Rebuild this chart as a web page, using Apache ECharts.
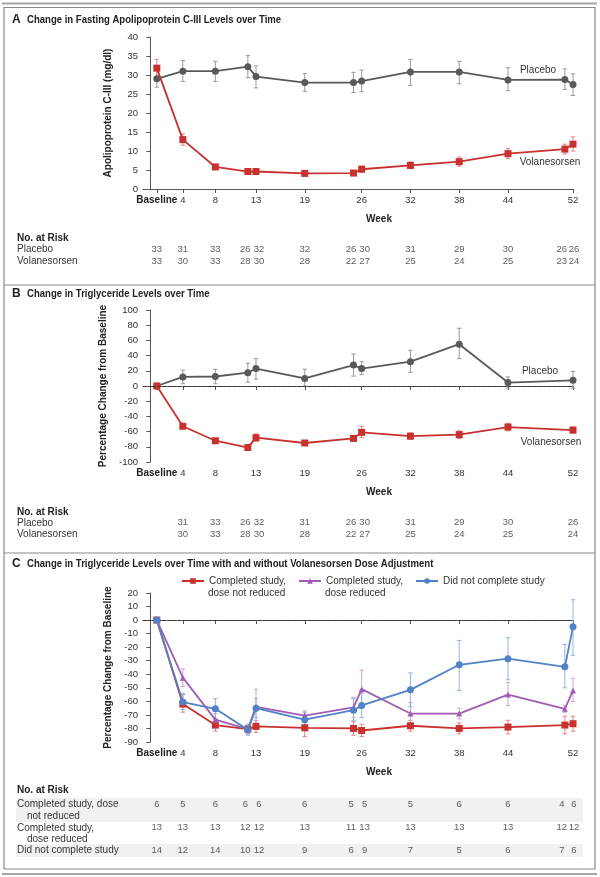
<!DOCTYPE html>
<html><head><meta charset="utf-8">
<script src="https://cdn.jsdelivr.net/npm/echarts@6/dist/echarts.min.js"></script>
<style>html,body{margin:0;padding:0;background:#fff}#c{width:600px;height:877px}</style>
</head><body><div id="c"></div>
<script>
// ---------- data ----------
const BASE = 0.8; // position of the "Baseline" visit on the week axis
const tickWeeks = [BASE, 4, 8, 13, 19, 26, 32, 38, 44, 52];
const weeksA = [BASE, 4, 8, 12, 13, 19, 25, 26, 32, 38, 44, 51, 52];
const placeboA = [29, 31, 31, 32.2, 29.6, 28, 28, 28.4, 30.8, 30.8, 28.7, 28.8, 27.5];
const placeboALow = [26.8, 28.3, 28.3, 29.3, 26.6, 25.7, 25.4, 25.6, 27.2, 27.7, 25.9, 26.2, 24.6];
const placeboAHigh = [31.2, 33.8, 33.6, 35.1, 32.4, 30.4, 30.7, 31.3, 34.1, 33.6, 31.9, 31.6, 30.3];
const volA = [31.8, 13, 5.8, 4.6, 4.6, 4.1, 4.2, 5.2, 6.2, 7.2, 9.3, 10.5, 11.8];
const volALow = [29.4, 11.5, 5.1, 4, 4, 3.5, 3.6, 4.5, 5.4, 6, 8, 9.2, 10];
const volAHigh = [34.1, 14.5, 6.5, 5.3, 5.3, 4.8, 4.8, 6, 7.1, 8.4, 10.6, 11.8, 13.7];
const riskAPlacebo = [33, 31, 33, 26, 32, 32, 26, 30, 31, 29, 30, 26, 26];
const riskAVol = [33, 30, 33, 28, 30, 28, 22, 27, 25, 24, 25, 23, 24];

const weeksB = [BASE, 4, 8, 12, 13, 19, 25, 26, 32, 38, 44, 52];
const placeboB = [0, 12, 12.5, 17.5, 23, 10, 27.5, 23, 32, 55, 4.5, 7.5];
const placeboBLow = [null, 3, 3, 5, 9, 0, 13, 15, 18, 36, -3, -3];
const placeboBHigh = [null, 21, 22, 30, 36, 22, 42, 32, 47, 76, 12, 19];
const volB = [0, -53, -72, -81, -68, -75, -69, -61, -66, -64, -54, -58];
const volBLow = [null, -56, -75, -84, -73, -78, -72, -68, -70, -69, -59, -62];
const volBHigh = [null, -50, -69, -78, -63, -72, -66, -53, -62, -59, -49, -54];
const riskWeeksB = [4, 8, 12, 13, 19, 25, 26, 32, 38, 44, 52];
const riskBPlacebo = [31, 33, 26, 32, 31, 26, 30, 31, 29, 30, 26];
const riskBVol = [30, 33, 28, 30, 28, 22, 27, 25, 24, 25, 24];

const weeksC = [BASE, 4, 8, 12, 13, 19, 25, 26, 32, 38, 44, 51, 52];
const notReduced = [0, -62, -77.5, -80.5, -78.5, -79.5, -80, -81.5, -78, -80, -79, -77.5, -76.5];
const notReducedLow = [null, -68, -82, -84, -83, -86, -85, -86, -82, -84, -84, -84, -82];
const notReducedHigh = [null, -55, -73, -77, -74, -73, -75, -77, -74, -76, -74, -71, -71];
const reduced = [0, -42.5, -73.5, -80.5, -64, -70.5, -64.5, -51, -69, -69, -55, -65.5, -52];
const reducedLow = [null, -49, -78, -84, -76, -74, -72, -65, -77, -73, -63, -68, -60];
const reducedHigh = [null, -36, -69, -77, -51, -67, -57, -37, -61, -65, -46, -63, -43];
const notComplete = [0, -60.5, -65.5, -81, -65, -73.5, -66.5, -63, -51.5, -33, -28.5, -34.5, -5];
const notCompleteLow = [null, -66, -73, -85, -72, -79, -74, -72, -64, -52, -44, -50, -26];
const notCompleteHigh = [null, -54, -58, -78, -58, -68, -58, -54, -39, -15, -13, -18, 15];
const riskCNotReduced = [6, 5, 6, 6, 6, 6, 5, 5, 5, 6, 6, 4, 6];
const riskCReduced = [13, 13, 13, 12, 12, 13, 11, 13, 13, 13, 13, 12, 12];
const riskCNotComplete = [14, 12, 14, 10, 12, 9, 6, 9, 7, 5, 6, 7, 6];

const nameNR = 'Completed study,\ndose not reduced';
const nameR = 'Completed study,\ndose reduced';
const nameNC = 'Did not complete study';

// ---------- style ----------
const FF = '"Liberation Sans Narrow","Liberation Sans",Arial,sans-serif';
const TXT = '#333';
const GRAY = '#58595b', GRAYE = '#9a9a9a';
const RED = '#c8312d', REDE = '#e08585';
const PUR = '#a05db3', PURE = '#c9a3d6';
const BLU = '#4f82c6', BLUE = '#93b3de';
const XMIN = -0.9, XMAX = 52;

function xAxisPlot(gi) {
  return {
    type: 'value', gridIndex: gi, min: XMIN, max: XMAX,
    axisLine: { show: true, lineStyle: { color: '#555', width: 1 } },
    axisTick: { show: true, length: 4, inside: false, customValues: tickWeeks, lineStyle: { color: '#555' } },
    splitLine: { show: false },
    axisLabel: {
      customValues: tickWeeks, margin: 6, fontFamily: FF, fontSize: 9.5, color: TXT,
      formatter: v => Math.abs(v - BASE) < 0.01 ? '{b|Baseline}' : String(v),
      rich: { b: { fontFamily: FF, fontSize: 10, fontWeight: 'bold', color: '#222' } }
    }
  };
}
function yAxisPlot(gi, min, max, interval, name) {
  return {
    type: 'value', gridIndex: gi, min, max, interval,
    name, nameLocation: 'middle', nameGap: 30,
    nameTextStyle: { fontFamily: FF, fontSize: 10, fontWeight: 'bold', color: '#222' },
    axisLine: { show: true, lineStyle: { color: '#555', width: 1 } },
    axisTick: { show: true, length: 4, lineStyle: { color: '#555' } },
    splitLine: { show: false },
    axisLabel: { margin: 5, fontFamily: FF, fontSize: 9.5, color: TXT }
  };
}
function xAxisTable(gi) {
  return { type: 'value', gridIndex: gi, min: XMIN, max: XMAX, show: false };
}
function yAxisTable(gi, n) {
  return { type: 'category', gridIndex: gi, data: Array.from({length: n}, (_, i) => 'r' + i), inverse: true, show: false };
}
function lineSeries(name, xi, xs, ys, color, symbol, z) {
  return {
    type: 'line', name, xAxisIndex: xi, yAxisIndex: xi,
    data: xs.map((x, i) => [x, ys[i]]),
    symbol, symbolSize: symbol === 'triangle' ? 6 : 7, showSymbol: true,
    lineStyle: { color, width: 1.8 }, itemStyle: { color },
    z: z || 3, silent: true, animation: false
  };
}
function errSeries(xi, xs, lo, hi, color) {
  const data = [];
  xs.forEach((x, i) => { if (lo[i] != null) data.push([x, lo[i], hi[i]]); });
  return {
    type: 'custom', xAxisIndex: xi, yAxisIndex: xi, data, z: 2, silent: true, animation: false,
    renderItem: (params, api) => {
      const x = api.value(0);
      const a = api.coord([x, api.value(1)]);
      const b = api.coord([x, api.value(2)]);
      const w = 2.2;
      const st = { stroke: color, lineWidth: 1 };
      return { type: 'group', children: [
        { type: 'line', shape: { x1: a[0], y1: a[1], x2: b[0], y2: b[1] }, style: st },
        { type: 'line', shape: { x1: a[0] - w, y1: a[1], x2: a[0] + w, y2: a[1] }, style: st },
        { type: 'line', shape: { x1: b[0] - w, y1: b[1], x2: b[0] + w, y2: b[1] }, style: st }
      ]};
    }
  };
}
// paired visits (weeks 12/13, 25/26, 51/52) are nudged apart so their counts stay legible
const nudge = { 12: -2.5, 25: -2.5, 51: -3, 13: 3, 26: 3, 52: 1 };
function riskSeries(gi, row, xs, vals) {
  return {
    type: 'scatter', xAxisIndex: gi, yAxisIndex: gi, symbolSize: 1,
    itemStyle: { color: 'rgba(0,0,0,0)' }, silent: true, animation: false,
    data: xs.map((x, i) => ({
      value: [x, row, vals[i]],
      label: { offset: [(xs.includes(x - 1) || xs.includes(x + 1)) ? (nudge[x] || 0) : 0, 0] }
    })),
    label: { show: true, position: 'inside', formatter: p => String(p.value[2]),
      fontFamily: FF, fontSize: 9.5, color: TXT }
  };
}
const zeroLine = {
  silent: true, symbol: 'none', animation: false,
  lineStyle: { type: [3, 2], color: '#333', width: 1 },
  label: { show: false }, data: [{ yAxis: 0 }]
};

function txt(x, y, text, opt, sx) {
  opt = opt || {};
  return { type: 'text', x, y, scaleX: sx || 1, silent: true, z: 10, style: Object.assign({
    text, fontFamily: FF, fontSize: 10, fill: TXT, verticalAlign: 'middle', align: 'left'
  }, opt) };
}
const TB = { fontSize: 10.5, fontWeight: 'bold', fill: '#222' };

const graphics = [
  { type: 'rect', shape: { x: 16, y: 798, width: 567, height: 24 }, style: { fill: '#f1f1f1' }, z: -1, silent: true },
  { type: 'rect', shape: { x: 16, y: 844, width: 567, height: 13 }, style: { fill: '#f1f1f1' }, z: -1, silent: true },
  { type: 'line', shape: { x1: 2, y1: 3.5, x2: 597, y2: 3.5 }, style: { stroke: '#a5a5a5', lineWidth: 2 }, silent: true },
  { type: 'rect', shape: { x: 4, y: 7.5, width: 591, height: 861.5 }, style: { stroke: '#8a8a8a', fill: null, lineWidth: 1.2 }, silent: true },
  { type: 'line', shape: { x1: 4, y1: 285, x2: 595, y2: 285 }, style: { stroke: '#8a8a8a', lineWidth: 1.2 }, silent: true },
  { type: 'line', shape: { x1: 4, y1: 553, x2: 595, y2: 553 }, style: { stroke: '#8a8a8a', lineWidth: 1.2 }, silent: true },
  { type: 'line', shape: { x1: 2, y1: 874, x2: 597, y2: 874 }, style: { stroke: '#a5a5a5', lineWidth: 2 }, silent: true },
  // titles
  txt(12, 20, 'A', { fontSize: 12, fontWeight: 'bold', fill: '#222' }),
  txt(27, 20, 'Change in Fasting Apolipoprotein C-III Levels over Time', TB, 0.91),
  txt(12, 294, 'B', { fontSize: 12, fontWeight: 'bold', fill: '#222' }),
  txt(27, 294, 'Change in Triglyceride Levels over Time', TB, 0.91),
  txt(12, 564, 'C', { fontSize: 12, fontWeight: 'bold', fill: '#222' }),
  txt(27, 564, 'Change in Triglyceride Levels over Time with and without Volanesorsen Dose Adjustment', TB, 0.91),
  // week labels
  txt(379, 219, 'Week', { fontWeight: 'bold', align: 'center', fill: '#222' }),
  txt(379, 492, 'Week', { fontWeight: 'bold', align: 'center', fill: '#222' }),
  txt(379, 772, 'Week', { fontWeight: 'bold', align: 'center', fill: '#222' }),
  // series annotations
  txt(538, 70, 'Placebo', { align: 'center' }),
  txt(550, 162, 'Volanesorsen', { align: 'center' }),
  txt(540, 371, 'Placebo', { align: 'center' }),
  txt(551, 442, 'Volanesorsen', { align: 'center' }),
  // legend second lines (panel C)
  txt(208, 593, 'dose not reduced'),
  txt(325, 593, 'dose reduced'),
  // risk tables
  txt(17, 238, 'No. at Risk', { fontWeight: 'bold', fill: '#222' }),
  txt(17, 249, 'Placebo'),
  txt(17, 261, 'Volanesorsen'),
  txt(17, 512, 'No. at Risk', { fontWeight: 'bold', fill: '#222' }),
  txt(17, 523, 'Placebo'),
  txt(17, 534, 'Volanesorsen'),
  txt(17, 790, 'No. at Risk', { fontWeight: 'bold', fill: '#222' }),
  txt(17, 804, 'Completed study, dose'),
  txt(27, 816, 'not reduced'),
  txt(17, 828, 'Completed study,'),
  txt(27, 839, 'dose reduced'),
  txt(17, 850, 'Did not complete study')
];

function legendAt(left, name) {
  return {
    left, top: 576, orient: 'horizontal', selectedMode: false,
    itemWidth: 22, itemHeight: 7, itemGap: 0, padding: 0,
    data: [{ name }],
    formatter: n => n.split('\n')[0],
    textStyle: { fontFamily: FF, fontSize: 10, color: TXT }
  };
}

const option = {
  backgroundColor: '#fff',
  animation: false,
  textStyle: { fontFamily: FF },
  graphic: graphics,
  legend: [legendAt(181, nameNR), legendAt(298, nameR), legendAt(415, nameNC)],
  grid: [
    { left: 143, right: 27, top: 37, height: 152 },
    { left: 143, right: 27, top: 243, height: 24 },
    { left: 143, right: 27, top: 310, height: 152 },
    { left: 143, right: 27, top: 517, height: 23 },
    { left: 143, right: 27, top: 593, height: 149 },
    { left: 143, right: 27, top: 793, height: 69 }
  ],
  xAxis: [xAxisPlot(0), xAxisTable(1), xAxisPlot(2), xAxisTable(3), xAxisPlot(4), xAxisTable(5)],
  yAxis: [
    yAxisPlot(0, 0, 40, 5, 'Apolipoprotein C-III (mg/dl)'),
    yAxisTable(1, 2),
    yAxisPlot(2, -100, 100, 20, 'Percentage Change from Baseline'),
    yAxisTable(3, 2),
    yAxisPlot(4, -90, 20, 10, 'Percentage Change from Baseline'),
    yAxisTable(5, 3)
  ],
  series: [
    // Panel A
    errSeries(0, weeksA, placeboALow, placeboAHigh, GRAYE),
    errSeries(0, weeksA, volALow, volAHigh, REDE),
    lineSeries('Placebo', 0, weeksA, placeboA, GRAY, 'circle', 3),
    lineSeries('Volanesorsen', 0, weeksA, volA, RED, 'rect', 4),
    riskSeries(1, 0, weeksA, riskAPlacebo),
    riskSeries(1, 1, weeksA, riskAVol),
    // Panel B
    errSeries(2, weeksB, placeboBLow, placeboBHigh, GRAYE),
    errSeries(2, weeksB, volBLow, volBHigh, REDE),
    Object.assign(lineSeries('Placebo B', 2, weeksB, placeboB, GRAY, 'circle', 3), { markLine: zeroLine }),
    lineSeries('Volanesorsen B', 2, weeksB, volB, RED, 'rect', 4),
    riskSeries(3, 0, riskWeeksB, riskBPlacebo),
    riskSeries(3, 1, riskWeeksB, riskBVol),
    // Panel C
    errSeries(4, weeksC, notReducedLow, notReducedHigh, REDE),
    errSeries(4, weeksC, reducedLow, reducedHigh, PURE),
    errSeries(4, weeksC, notCompleteLow, notCompleteHigh, BLUE),
    Object.assign(lineSeries(nameNR, 4, weeksC, notReduced, RED, 'rect', 3), { markLine: zeroLine }),
    lineSeries(nameR, 4, weeksC, reduced, PUR, 'triangle', 4),
    lineSeries(nameNC, 4, weeksC, notComplete, BLU, 'circle', 5),
    riskSeries(5, 0, weeksC, riskCNotReduced),
    riskSeries(5, 1, weeksC, riskCReduced),
    riskSeries(5, 2, weeksC, riskCNotComplete)
  ]
};
const chart = echarts.init(document.getElementById('c'), null, { renderer: 'canvas' });
chart.setOption(option);
</script>
</body></html>
